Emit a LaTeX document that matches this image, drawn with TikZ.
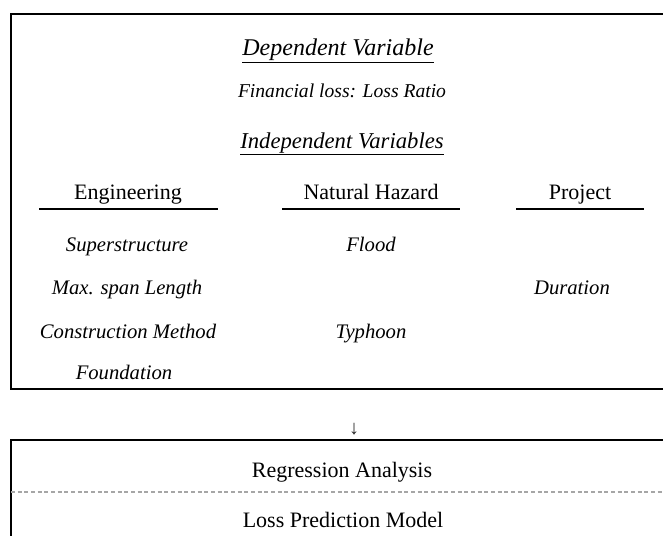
\documentclass[tikz,border=0pt]{standalone}
\usepackage{fontspec}
\setmainfont{Liberation Serif}

\tikzset{
  frame/.style={black,line width=1.1pt},
  rule/.style={black,line width=0.8pt},
  sepline/.style={gray!70,line width=0.8pt,densely dashed},
  label/.style={shape=rectangle,draw=none,inner sep=0pt,anchor=base},
  heading/.style={label,font=\fontsize{17}{20}\selectfont\itshape},
  result/.style={label,font=\fontsize{14.7}{17}\selectfont\itshape},
  group/.style={label,font=\fontsize{16.5}{19}\selectfont},
  factor/.style={label,font=\fontsize{15.5}{18}\selectfont\itshape},
}

\begin{document}
\begin{tikzpicture}[x=0.75pt,y=-0.75pt]

\useasboundingbox (0,0) rectangle (663,536);

%% - Draw boxes
%% - --------------------------------------

\draw[frame] (663,14) -- (11,14) -- (11,389) -- (663,389);
\draw[frame] (663,440) -- (11,440) -- (11,536);
\draw[sepline] (11,492) -- (663,492);

%% - Draw column rules
%% - --------------------------------------

\draw[rule] (39,209) -- (218,209);
\draw[rule] (282,209) -- (460,209);
\draw[rule] (516,209) -- (644,209);

%% - Draw Text
%% - --------------------------------------
\node[heading,font=\fontsize{18}{20}\selectfont\itshape] (dep) at (338,55) {\underline{Dependent Variable}};
\node[result] (lossratio) at (342,97) {Financial loss: Loss Ratio};
\node[heading] (indep) at (342,148) {\underline{Independent Variables}};

\node[group] (eng) at (128,199) {Engineering};
\node[group] (haz) at (371,199) {Natural Hazard};
\node[group] (proj) at (580,199) {Project};

\node[factor] (superstr) at (127,251) {Superstructure};
\node[factor] (span) at (127,294) {Max. span Length};
\node[factor] (constr) at (128,338) {Construction Method};
\node[factor] (found) at (124,379) {Foundation};

\node[factor] (flood) at (371,251) {Flood};
\node[factor] (typhoon) at (371,338) {Typhoon};

\node[factor] (duration) at (572,294) {Duration};

\node[label,text=black!85,font=\fontsize{15}{16}\selectfont] (arrow) at (354,434) {↓};

\node[group] (regr) at (342,477) {Regression Analysis};
\node[group] (model) at (343,527) {Loss Prediction Model};

\end{tikzpicture}
\end{document}
